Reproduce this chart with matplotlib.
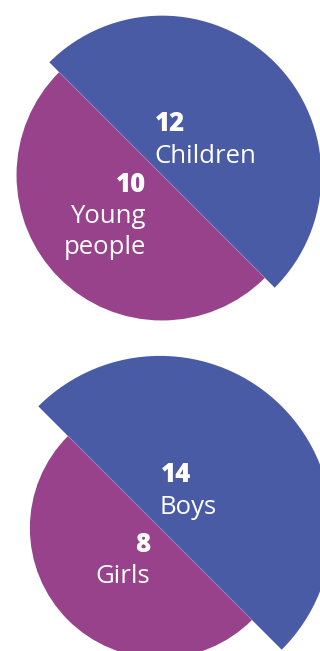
import matplotlib.pyplot as plt
from matplotlib.patches import Wedge
import numpy as np

# two split discs: each half is a semicircle whose area follows its count
top_values = [12, 10]
top_labels = ["Children", "Young\npeople"]
bottom_values = [14, 8]
bottom_labels = ["Boys", "Girls"]

blue = "#4a5ba6"
purple = "#97428b"
seam = "#a781c0"

scale = 46.0  # pixels per sqrt(unit)

plt.rcParams["font.family"] = ["Open Sans", "DejaVu Sans"]

fig = plt.figure(figsize=(3.2, 6.51), dpi=100)
ax = fig.add_axes([0, 0, 1, 1])
ax.set_xlim(0, 320)
ax.set_ylim(651, 0)
ax.set_aspect("equal")
ax.axis("off")


def split_disc(cx, cy, values, labels, big_off, small_off):
    r_big = scale * np.sqrt(values[0])
    r_small = scale * np.sqrt(values[1])
    # y axis is inverted, so angles run clockwise on screen
    ax.add_patch(Wedge((cx, cy), r_big, 225, 405, color=blue, lw=0))
    ax.add_patch(Wedge((cx, cy), r_small, 45, 225, color=purple, lw=0))
    d = r_small / np.sqrt(2)
    ax.plot([cx - d, cx + d], [cy - d, cy + d], color=seam, lw=0.5)

    bx, by = big_off
    ax.text(cx + bx, cy + by, str(values[0]), color="white", fontsize=18.5,
            fontweight="heavy", ha="left", va="baseline")
    ax.text(cx + bx - 1, cy + by + 32, labels[0], color="white", fontsize=18.5,
            ha="left", va="baseline")

    sx, sy = small_off
    ax.text(cx + sx, cy + sy, str(values[1]), color="white", fontsize=18.5,
            fontweight="heavy", ha="right", va="baseline")
    for i, line in enumerate(labels[1].split("\n")):
        ax.text(cx + sx, cy + sy + 31 * (i + 1), line, color="white",
                fontsize=18.5, ha="right", va="baseline")


split_disc(162, 175, top_values, top_labels, (-7, -44), (-16, 17))
split_disc(160, 528, bottom_values, bottom_labels, (1, -46), (-10, 24))

fig.savefig("out.png", dpi=100)
